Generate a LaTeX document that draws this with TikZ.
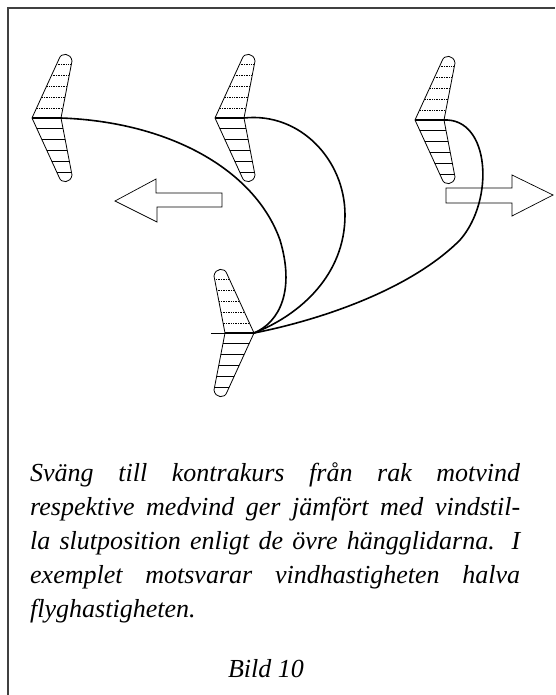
\documentclass[tikz,border=0pt]{standalone}
\usepackage{fontspec}
\setmainfont{Liberation Serif}
\begin{document}
\begin{tikzpicture}[x=1pt,y=-1pt,
  outline/.style={line width=0.8pt, line join=round},
  hatchdot/.style={line width=0.7pt, densely dotted},
  hatchline/.style={line width=0.7pt},
  track/.style={line width=1.6pt, line cap=round},
  windarrow/.style={line width=0.7pt, line join=miter},
  captionline/.style={anchor=base west, inner sep=0pt, font=\fontsize{26}{33}\selectfont\itshape},
  frameline/.style={line width=1.2pt, black!75}
]
% a hang glider seen from above, nose at the origin, pointing left
\tikzset{glider/.pic={
  \coordinate (-nose) at (0,0);
  \coordinate (-rear) at (29,0);
  \begin{scope}
    \clip (0,0) -- (27,-59) .. controls (29,-66) and (39,-65) .. (40,-57) -- (29,0)
          -- (40,57) .. controls (39,65) and (29,66) .. (27,59) -- cycle;
    \foreach \h in {10,21,32,43,54} {
      \draw[hatchdot] (-5,-\h) -- (50,-\h);
      \draw[hatchline] (-5,\h) -- (50,\h);
    }
  \end{scope}
  \draw[outline] (0,0) -- (27,-59) .. controls (29,-66) and (39,-65) .. (40,-57) -- (29,0)
        -- (40,57) .. controls (39,65) and (29,66) .. (27,59) -- cycle;
  \draw[line width=1.2pt] (0,0) -- (29,0);
}}

\useasboundingbox (0,0) rectangle (555,695);

% frame
\draw[frameline] (8,695) -- (8,8) -- (555,8);

% gliders
\pic (g1) at (32,118) {glider};
\pic (g2) at (215,118) {glider};
\pic (g3) at (415,120) {glider};
\pic[xscale=-1] (g4) at (254,333) {glider};
\coordinate (g4tail) at (211,333);
\draw[line width=1pt] (g4tail) -- (g4-nose);

% wind arrows
\draw[windarrow] (115,201) -- (156,179) -- (156,193) -- (222,193) -- (222,207)
  -- (157,207) -- (157,222) -- cycle;
\draw[windarrow] (446,188) -- (512,188) -- (512,175) -- (553,195) -- (512,216)
  -- (512,203) -- (446,203) -- cycle;

% turn tracks
\draw[track] (g1-rear) .. controls (170,122) and (255,170) .. (280,240)
  .. controls (295,290) and (280,322) .. (g4-nose);
\draw[track] (g2-rear) .. controls (300,112) and (345,160) .. (345,215)
  .. controls (345,275) and (300,315) .. (g4-nose);
\draw[track] (g3-rear) .. controls (490,118) and (495,200) .. (460,240)
  .. controls (410,290) and (320,320) .. (g4-nose);

% caption
\node[captionline] (c1) at (30,481) {\makebox[490pt][s]{Sväng till kontrakurs från rak motvind}};
\node[captionline] (c2) at (30,515) {\makebox[490pt][s]{respektive medvind ger jämfört med vindstil-}};
\node[captionline] (c3) at (30,549) {\makebox[490pt][s]{la slutposition enligt de övre hängglidarna. I}};
\node[captionline] (c4) at (30,583) {\makebox[490pt][s]{exemplet motsvarar vindhastigheten halva}};
\node[captionline] (c5) at (30,617) {flyghastigheten.};
\node[captionline, anchor=base] (bild) at (266,677) {Bild 10};
\end{tikzpicture}
\end{document}
